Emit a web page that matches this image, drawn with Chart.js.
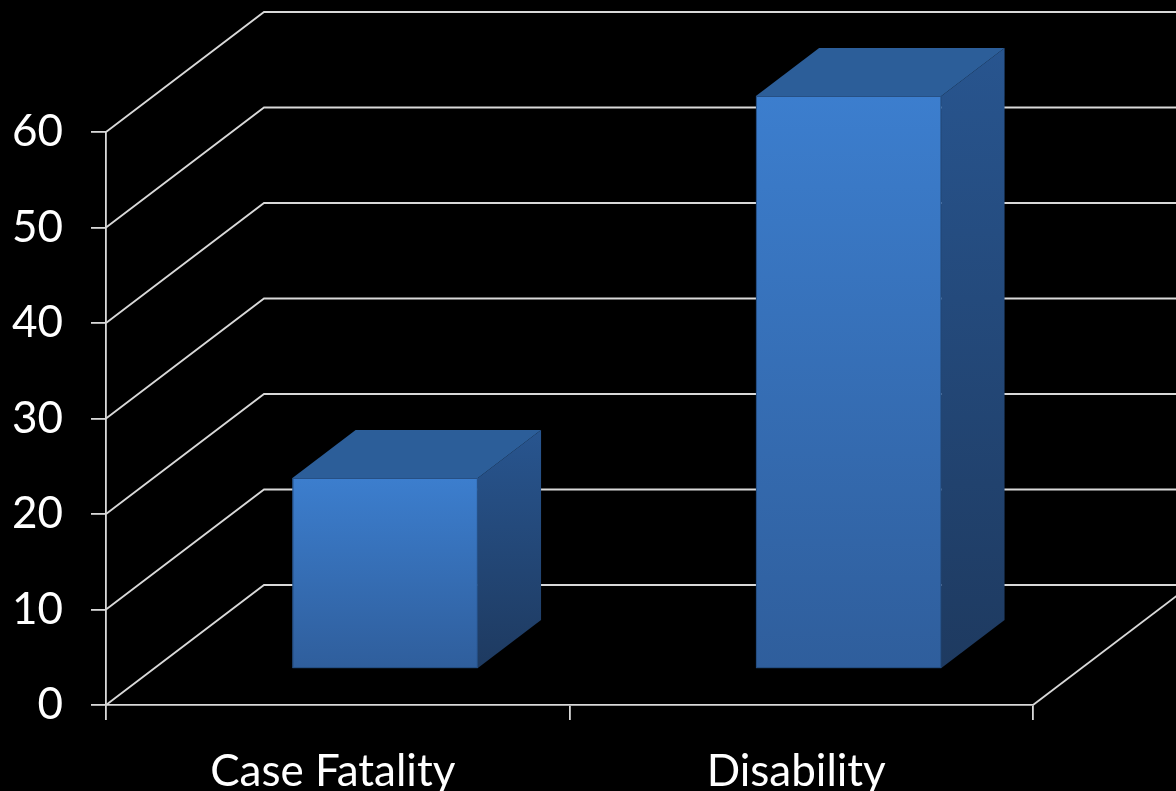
<!DOCTYPE html>
<html>
<head>
<meta charset="utf-8">
<script src="https://cdn.jsdelivr.net/npm/chart.js@4"></script>
<style>
  html, body { margin: 0; padding: 0; background: #000; }
  #c { display: block; }
</style>
</head>
<body>
<canvas id="c" width="1176" height="791"></canvas>
<script>
const categories = ['Case Fatality', 'Disability'];
const values = [20, 60];
const yMin = 0, yMax = 60, yStep = 10;

const LINE = '#d9d9d9';
const DX = 158, DY = 120;          // full depth of the 3D floor
const F1 = 0.3, F2 = 0.7;          // bar front / back depth fractions

const depthPlugin = {
  id: 'depth3d',
  beforeDatasetsDraw(chart) {
    const ctx = chart.ctx, y = chart.scales.y, x = chart.scales.x;
    const x0 = x.left, x1 = x.right;
    ctx.save();
    ctx.strokeStyle = LINE;
    ctx.lineWidth = 1.8;
    for (let v = yMin; v <= yMax; v += yStep) {
      const py = y.getPixelForValue(v);
      ctx.beginPath();
      ctx.moveTo(x0, py);
      ctx.lineTo(x0 + DX, py - DY);
      ctx.lineTo(x1 + DX + 20, py - DY);
      ctx.stroke();
    }
    const pb = y.getPixelForValue(yMin);
    ctx.beginPath();
    ctx.moveTo(x1, pb);
    ctx.lineTo(x1 + DX, pb - DY);
    ctx.stroke();
    ctx.restore();
  },
  afterDatasetsDraw(chart) {
    const ctx = chart.ctx;
    const meta = chart.getDatasetMeta(0);
    const bdx = (F2 - F1) * DX, bdy = (F2 - F1) * DY;
    ctx.save();
    meta.data.forEach(el => {
      const p = el.getProps(['x', 'y', 'base', 'width'], true);
      const L = p.x - p.width / 2 + F1 * DX;
      const R = L + p.width;
      const T = p.y - F1 * DY;
      const B = p.base - F1 * DY;
      // side face
      const gs = ctx.createLinearGradient(0, T - bdy, 0, B);
      gs.addColorStop(0, '#28558f');
      gs.addColorStop(1, '#1e3a60');
      ctx.fillStyle = gs;
      ctx.beginPath();
      ctx.moveTo(R, T); ctx.lineTo(R + bdx, T - bdy);
      ctx.lineTo(R + bdx, B - bdy); ctx.lineTo(R, B); ctx.closePath();
      ctx.fill();
      // top face
      ctx.fillStyle = '#2c5e99';
      ctx.beginPath();
      ctx.moveTo(L, T); ctx.lineTo(L + bdx, T - bdy);
      ctx.lineTo(R + bdx, T - bdy); ctx.lineTo(R, T); ctx.closePath();
      ctx.fill();
      // front face
      const gf = ctx.createLinearGradient(0, T, 0, B);
      gf.addColorStop(0, '#3c7ece');
      gf.addColorStop(1, '#2f5e9c');
      ctx.fillStyle = gf;
      ctx.fillRect(L, T, R - L, B - T);
      // subtle edges
      ctx.strokeStyle = 'rgba(35,75,125,0.9)';
      ctx.lineWidth = 1;
      ctx.strokeRect(L + 0.5, T + 0.5, R - L - 1, B - T - 1);
    });
    ctx.restore();
  }
};

new Chart(document.getElementById('c'), {
  type: 'bar',
  data: {
    labels: categories,
    datasets: [{
      data: values,
      backgroundColor: 'rgba(0,0,0,0)',
      borderWidth: 0,
      barPercentage: 0.4,
      categoryPercentage: 1.0
    }]
  },
  options: {
    responsive: false,
    animation: false,
    devicePixelRatio: 1,
    layout: { padding: { top: 132, right: 143, left: 0, bottom: 0 } },
    plugins: { legend: { display: false }, tooltip: { enabled: false } },
    scales: {
      x: {
        offset: true,
        afterFit(s) { s.height = 86; },
        grid: { offset: true, drawOnChartArea: false, drawTicks: true, tickLength: 15, color: LINE, lineWidth: 1.8 },
        border: { display: true, color: LINE, width: 1.8 },
        ticks: { color: '#ffffff', font: { family: 'Lato', size: 44 }, padding: 25, labelOffset: -5, autoSkip: false, maxRotation: 0 }
      },
      y: {
        min: yMin, max: yMax,
        afterFit(s) { s.width = 106; },
        grid: { drawOnChartArea: false, drawTicks: true, tickLength: 15, color: LINE, lineWidth: 1.8 },
        border: { display: true, color: LINE, width: 1.8 },
        ticks: { stepSize: yStep, color: '#ffffff', font: { family: 'Lato', size: 44 }, padding: 28 }
      }
    }
  },
  plugins: [depthPlugin]
});
</script>
</body>
</html>
